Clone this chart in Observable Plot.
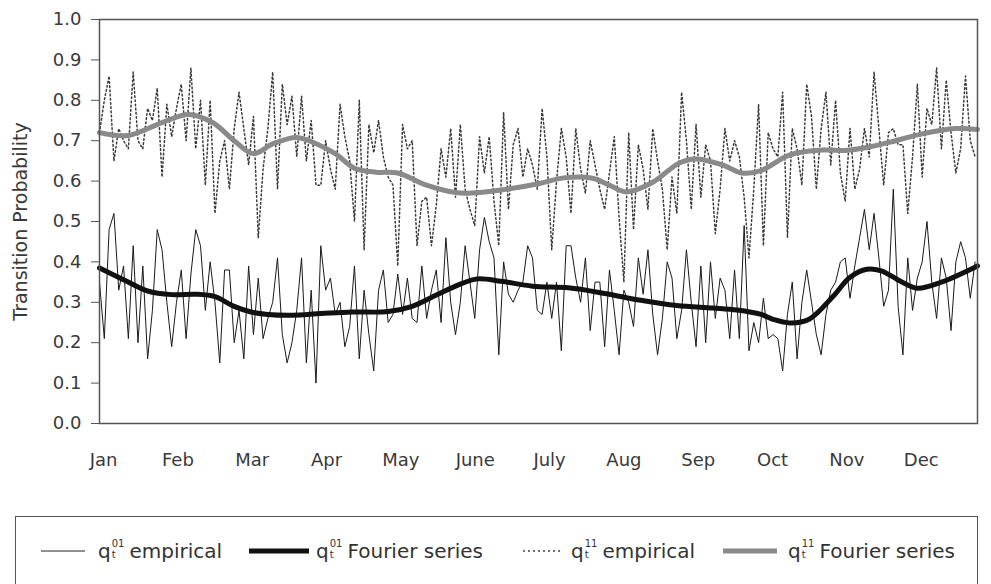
<!DOCTYPE html>
<html>
<head>
<meta charset="utf-8">
<script src="https://cdn.jsdelivr.net/npm/d3@7"></script>
<script src="https://cdn.jsdelivr.net/npm/@observablehq/plot@0.6"></script>
<style>
  html, body { margin: 0; padding: 0; background: #fff; }
  body { width: 991px; height: 584px; position: relative; overflow: hidden; font-family: "DejaVu Sans", sans-serif; }
  #chart { position: absolute; left: 0; top: 0; }
  #legend { position: absolute; left: 15px; top: 516px; width: 963px; height: 90px; border: 1.5px solid #555; box-sizing: border-box; color: #333; font-size: 20px; }
  .item { position: absolute; top: 20px; white-space: nowrap; line-height: 28px; display: flex; align-items: center; }
  .sample { position: absolute; top: 30px; }
  .idx { display: inline-flex; flex-direction: column; font-size: 10px; line-height: 11px; margin: -4px 5px 0 1px; }
</style>
</head>
<body>
<div id="chart"></div>
<div id="legend">
  <svg class="sample" style="left:25px" width="44" height="8"><line x1="0" y1="4" x2="44" y2="4" stroke="#222" stroke-width="1"/></svg>
  <div class="item" style="left:82px"><span>q</span><span class="idx"><span>01</span><span>t</span></span><span>empirical</span></div>
  <svg class="sample" style="left:233px" width="60" height="8"><line x1="0" y1="4" x2="60" y2="4" stroke="#111" stroke-width="5"/></svg>
  <div class="item" style="left:300px"><span>q</span><span class="idx"><span>01</span><span>t</span></span><span>Fourier series</span></div>
  <svg class="sample" style="left:507px" width="37" height="8"><line x1="0" y1="4" x2="37" y2="4" stroke="#444" stroke-width="1.3" stroke-dasharray="2,3"/></svg>
  <div class="item" style="left:555px"><span>q</span><span class="idx"><span>11</span><span>t</span></span><span>empirical</span></div>
  <svg class="sample" style="left:707px" width="54" height="8"><line x1="0" y1="4" x2="54" y2="4" stroke="#8a8a8a" stroke-width="5"/></svg>
  <div class="item" style="left:772px"><span>q</span><span class="idx"><span>11</span><span>t</span></span><span>Fourier series</span></div>
</div>
<script>
// ---------- data ----------
const months = ["Jan","Feb","Mar","Apr","May","June","July","Aug","Sep","Oct","Nov","Dec"];
const yTicks = [0,0.1,0.2,0.3,0.4,0.5,0.6,0.7,0.8,0.9,1.0];
const dayStep = 2; // empirical values sampled every 2 days

// q01 empirical (days 0,2,...,364)
const q01Empirical = [
  0.35,0.21,0.48,0.52,0.33,0.39,0.21,0.44,0.20,0.39,0.16,0.28,0.48,0.43,0.30,0.19,0.30,0.38,0.21,0.37,
  0.48,0.44,0.28,0.40,0.30,0.15,0.38,0.38,0.20,0.28,0.16,0.39,0.22,0.36,0.21,0.26,0.30,0.41,0.22,0.15,
  0.20,0.28,0.41,0.15,0.33,0.10,
  0.44,0.33,0.36,0.27,0.30,0.19,0.24,0.39,0.16,0.33,0.22,0.13,0.33,0.38,0.25,0.27,0.37,0.27,0.36,0.26,
  0.25,0.39,0.26,0.33,0.38,0.25,0.46,0.30,0.22,0.30,0.44,0.35,0.26,0.43,0.51,0.45,0.41,0.17,0.40,0.32,
  0.30,0.33,0.35,0.44,0.41,0.28,
  0.27,0.35,0.26,0.35,0.18,0.44,0.44,0.36,0.30,0.41,0.23,0.35,0.35,0.19,0.38,0.28,0.17,0.33,0.30,0.24,
  0.41,0.32,0.43,0.27,0.17,0.26,0.40,0.36,0.21,0.28,0.43,0.30,0.19,0.39,0.20,0.40,0.26,0.36,0.33,0.21,
  0.38,0.21,0.49,0.18,0.25,0.20,
  0.31,0.21,0.22,0.21,0.13,0.27,0.35,0.16,0.30,0.38,0.30,0.22,0.17,0.27,0.33,0.35,0.40,0.41,0.31,0.39,
  0.46,0.53,0.43,0.52,0.41,0.29,0.33,0.58,0.29,0.17,0.41,0.28,0.36,0.40,0.50,0.35,0.26,0.41,0.36,0.23,
  0.40,0.45,0.41,0.31,0.40
];

// q11 empirical (days 0,2,...,364)
const q11Empirical = [
  0.72,0.80,0.86,0.65,0.73,0.70,0.68,0.87,0.70,0.68,0.78,0.75,0.83,0.61,0.79,0.71,0.78,0.84,0.70,0.88,
  0.68,0.80,0.59,0.80,0.52,0.65,0.70,0.58,0.73,0.82,0.73,0.64,0.76,0.46,0.63,0.73,0.87,0.58,0.84,0.74,
  0.81,0.66,0.81,0.65,0.75,0.59,
  0.59,0.70,0.63,0.58,0.79,0.71,0.65,0.50,0.80,0.43,0.74,0.67,0.75,0.66,0.61,0.59,0.39,0.74,0.68,0.70,
  0.44,0.55,0.56,0.44,0.54,0.68,0.61,0.73,0.56,0.74,0.58,0.53,0.49,0.71,0.62,0.71,0.55,0.44,0.77,0.53,
  0.69,0.73,0.61,0.68,0.64,0.58,
  0.78,0.66,0.43,0.60,0.73,0.66,0.52,0.73,0.63,0.57,0.70,0.64,0.58,0.53,0.62,0.71,0.51,0.35,0.72,0.48,
  0.69,0.63,0.53,0.73,0.65,0.58,0.43,0.61,0.52,0.82,0.70,0.53,0.74,0.56,0.69,0.65,0.47,0.58,0.73,0.65,
  0.70,0.66,0.56,0.41,0.58,0.79,
  0.44,0.72,0.68,0.66,0.82,0.46,0.73,0.68,0.59,0.84,0.76,0.58,0.73,0.82,0.64,0.80,0.62,0.55,0.73,0.58,
  0.63,0.73,0.66,0.87,0.73,0.59,0.72,0.73,0.69,0.69,0.52,0.66,0.84,0.61,0.78,0.74,0.88,0.68,0.85,0.72,
  0.62,0.68,0.86,0.70,0.66
];

// Fourier series (smooth) knots
const q01FourierDays = [0,10,20,30,40,48,56,63,70,80,92,105,120,130,140,150,157,167,180,195,210,225,240,255,265,275,280,287,295,305,312,319,325,333,340,350,365];
const q01FourierVals = [0.385,0.356,0.328,0.319,0.320,0.314,0.290,0.276,0.270,0.268,0.272,0.276,0.277,0.290,0.318,0.345,0.358,0.352,0.340,0.336,0.322,0.305,0.292,0.286,0.281,0.270,0.258,0.249,0.258,0.315,0.362,0.382,0.378,0.352,0.335,0.350,0.390];

const q11FourierDays = [0,12,26,37,47,56,64,72,82,91,98,106,115,124,135,145,152,167,183,193,205,212,219,230,241,248,259,267,275,287,301,310,319,331,342,356,365];
const q11FourierVals = [0.720,0.713,0.745,0.765,0.745,0.700,0.668,0.692,0.708,0.690,0.668,0.632,0.622,0.620,0.592,0.575,0.570,0.578,0.594,0.608,0.607,0.590,0.573,0.597,0.645,0.655,0.640,0.620,0.626,0.665,0.677,0.676,0.683,0.700,0.717,0.730,0.728];

// ---------- build tables ----------
const q01Rows = q01Empirical.map((v, i) => ({day: i * dayStep, v}));
const q11Rows = q11Empirical.map((v, i) => ({day: i * dayStep, v}));
const q01F = q01FourierDays.map((d, i) => ({day: d, v: q01FourierVals[i]}));
const q11F = q11FourierDays.map((d, i) => ({day: d, v: q11FourierVals[i]}));
const monthTickDays = months.map((m, i) => 1.7 + i * 30.9);

const chart = Plot.plot({
  width: 991,
  height: 500,
  marginLeft: 99,
  marginRight: 14,
  marginTop: 19,
  marginBottom: 77,
  style: {fontFamily: "DejaVu Sans", fontSize: "18px", color: "#3a3a3a", background: "transparent"},
  x: {domain: [0, 365]},
  y: {domain: [0, 1]},
  marks: [
    Plot.line(q11Rows, {x: "day", y: "v", stroke: "#3a3a3a", strokeWidth: 1.5, strokeDasharray: "1.6,2.6"}),
    Plot.line(q01Rows, {x: "day", y: "v", stroke: "#1a1a1a", strokeWidth: 1}),
    Plot.line(q11F, {x: "day", y: "v", stroke: "#8a8a8a", strokeWidth: 5, curve: "catmull-rom"}),
    Plot.line(q01F, {x: "day", y: "v", stroke: "#111", strokeWidth: 5, curve: "catmull-rom"}),
    Plot.frame({stroke: "#555", strokeWidth: 1.5}),
    Plot.axisY(yTicks, {tickSize: 8, tickPadding: 10, tickFormat: d => d.toFixed(1), label: null, stroke: "#555"}),
    Plot.axisX(monthTickDays, {tickSize: 0, tickPadding: 30, tickFormat: (d, i) => months[i], label: null}),
    Plot.text(["Transition Probability"], {frameAnchor: "left", textAnchor: "middle", rotate: -90, dx: -79, text: d => d, fontSize: 19, fill: "#3a3a3a"})
  ]
});
document.getElementById("chart").appendChild(chart);
</script>
</body>
</html>
